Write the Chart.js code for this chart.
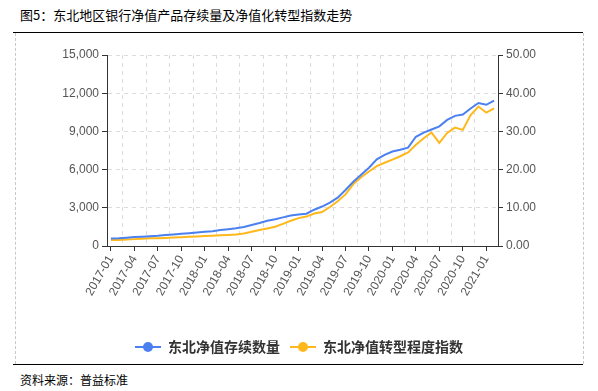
<!DOCTYPE html>
<html>
<head>
<meta charset="utf-8">
<script src="https://cdn.jsdelivr.net/npm/chart.js@4.4.1/dist/chart.umd.min.js"></script>
<style>
  body { margin: 0; background: #fff; font-family: "Noto Sans CJK SC", sans-serif; }
  #page { position: relative; width: 598px; height: 391px; overflow: hidden; }
  #title { position: absolute; left: 20px; top: 5px; font-size: 13px; color: #000; }
  #topline { position: absolute; left: 13px; top: 32px; width: 570px; height: 1px; background: #000; }
  #botline { position: absolute; left: 13px; top: 364px; width: 570px; height: 1px; background: #000; }
  .vdash { position: absolute; top: 33px; height: 331px; width: 0; border-left: 1px dashed #c8c8c8; }
  #source { position: absolute; left: 20px; top: 371px; font-size: 12px; color: #000; }
  #chart { position: absolute; left: 15px; top: 33px; }
</style>
</head>
<body>
<div id="page">
  <div id="title">图5：东北地区银行净值产品存续量及净值化转型指数走势</div>
  <div id="topline"></div>
  <div class="vdash" style="left:15px"></div>
  <div class="vdash" style="left:583px"></div>
  <canvas id="chart" width="568" height="331"></canvas>
  <div id="botline"></div>
  <div id="source">资料来源：普益标准</div>
</div>
<script>
// 月份标签 2017-01 ~ 2021-02
const months = [];
for (let y = 2017; y <= 2021; y++) {
    for (let m = 1; m <= 12; m++) {
        if (y === 2021 && m > 2) break;
        months.push(y + '-' + String(m).padStart(2, '0'));
    }
}

// 东北净值存续数量 (左轴)
const stockCount = [
    580, 600, 650, 700, 730, 760, 800, 860, 910, 960, 1010, 1060,
    1120, 1150, 1250, 1320, 1400, 1500, 1650, 1800, 1980, 2100, 2250, 2400,
    2480, 2540, 2850, 3100, 3400, 3800, 4400, 5050, 5600, 6150, 6800, 7150,
    7420, 7560, 7720, 8580, 8900, 9150, 9400, 9900, 10220, 10320, 10800, 11230,
    11090, 11420
];

// 东北净值转型程度指数 (右轴)
const transIndex = [
    1.6, 1.6, 1.7, 1.8, 1.9, 2.0, 2.0, 2.1, 2.2, 2.3, 2.4, 2.5,
    2.6, 2.7, 2.8, 2.9, 3.0, 3.3, 3.75, 4.2, 4.6, 5.05, 5.8, 6.6,
    7.3, 7.7, 8.5, 8.9, 10.2, 11.7, 13.5, 16.2, 18.0, 19.5, 20.9, 21.8,
    22.6, 23.5, 24.5, 26.5, 28.2, 29.7, 27.0, 29.6, 31.0, 30.4, 34.3, 36.5,
    34.9, 36.0
];

const blue = '#4a80f0';
const yellow = '#ffb81c';

// 图例用：线段+圆点
function legendIcon(color) {
    const c = document.createElement('canvas');
    c.width = 26; c.height = 12;
    const g = c.getContext('2d');
    g.strokeStyle = color; g.lineWidth = 2;
    g.beginPath(); g.moveTo(0, 6); g.lineTo(26, 6); g.stroke();
    g.fillStyle = color;
    g.beginPath(); g.arc(13, 6, 5, 0, Math.PI * 2); g.fill();
    return c;
}
const icons = [legendIcon(blue), legendIcon(yellow)];

const tickFont = { family: '"Liberation Sans", Arial, sans-serif', size: 12 };
const gridColor = '#dcdcdc';

new Chart(document.getElementById('chart'), {
    type: 'line',
    data: {
        labels: months,
        datasets: [{
            label: '东北净值存续数量',
            data: stockCount,
            borderColor: blue,
            backgroundColor: blue,
            borderWidth: 2,
            pointRadius: 0,
            yAxisID: 'y',
            xAxisID: 'x'
        }, {
            label: '东北净值转型程度指数',
            data: transIndex,
            borderColor: yellow,
            backgroundColor: yellow,
            borderWidth: 2,
            pointRadius: 0,
            yAxisID: 'y1',
            xAxisID: 'x'
        }]
    },
    options: {
        responsive: false,
        animation: false,
        layout: { padding: { top: 22, left: 0, right: 0, bottom: 0 } },
        plugins: {
            tooltip: { enabled: false },
            legend: {
                position: 'bottom',
                labels: {
                    usePointStyle: true,
                    pointStyleWidth: 26,
                    padding: 10,
                    color: '#333',
                    font: { family: '"Noto Sans CJK SC", sans-serif', size: 14, weight: 'bold' },
                    generateLabels(chart) {
                        const items = Chart.defaults.plugins.legend.labels.generateLabels(chart);
                        items.forEach((it, i) => { it.pointStyle = icons[i]; });
                        return items;
                    }
                }
            }
        },
        scales: {
            x: {
                type: 'category',
                position: 'bottom',
                offset: true,
                grid: {
                    drawOnChartArea: false,
                    tickLength: 5,
                    tickColor: ctx => (ctx.index % 3 === 0 ? '#333' : 'rgba(0,0,0,0)')
                },
                border: { color: '#333', width: 1 },
                ticks: {
                    autoSkip: false,
                    maxRotation: 60,
                    minRotation: 60,
                    padding: 2,
                    color: '#555',
                    font: tickFont,
                    callback: function (v, i) { return i % 3 === 0 ? this.getLabelForValue(v) : ''; }
                },
                afterFit: s => { s.height = 84; }
            },
            xg: {
                type: 'category',
                position: 'bottom',
                offset: true,
                grid: {
                    offset: true,
                    drawTicks: false,
                    color: ctx => (ctx.index % 3 === 2 ? gridColor : 'rgba(0,0,0,0)')
                },
                border: { display: false, dash: [4, 4] },
                ticks: { display: false },
                afterFit: s => { s.height = 0; }
            },
            y: {
                position: 'left',
                min: 0,
                max: 15000,
                grid: { color: gridColor, tickColor: '#333', tickLength: 5 },
                border: { color: '#333', width: 1, dash: [4, 4] },
                ticks: {
                    stepSize: 3000,
                    padding: 3,
                    color: '#555',
                    font: tickFont,
                    callback: v => v.toLocaleString('en-US')
                },
                afterFit: s => { s.width = 92; }
            },
            y1: {
                position: 'right',
                min: 0,
                max: 50,
                grid: { drawOnChartArea: false, tickColor: '#333', tickLength: 5 },
                border: { color: '#333', width: 1 },
                ticks: {
                    stepSize: 10,
                    padding: 3,
                    color: '#555',
                    font: tickFont,
                    callback: v => v.toFixed(2)
                },
                afterFit: s => { s.width = 85; }
            }
        }
    }
});
</script>
</body>
</html>
